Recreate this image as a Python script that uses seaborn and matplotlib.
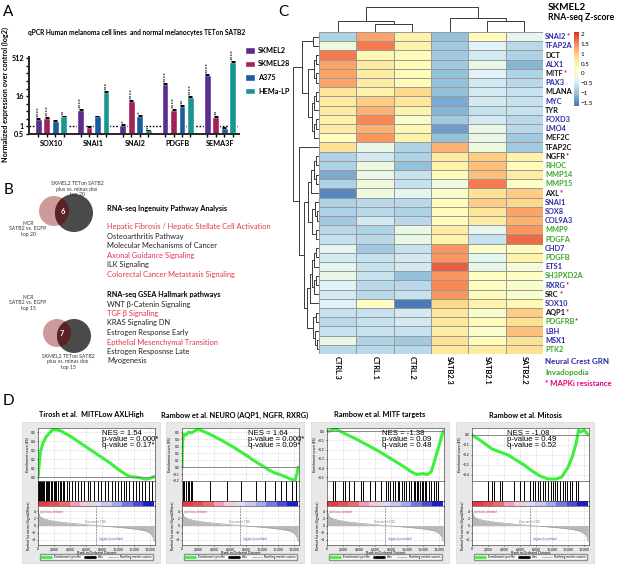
import matplotlib
matplotlib.use("Agg")
import matplotlib.pyplot as plt
import numpy as np
import pandas as pd
import seaborn as sns
from matplotlib.colors import LinearSegmentedColormap, to_rgb
from matplotlib.lines import Line2D
from matplotlib.patches import Circle, Patch, Rectangle
from matplotlib.ticker import FuncFormatter, NullFormatter

W, H = 617, 564

# ---------------- A: qPCR ----------------
qpcr_genes = ["SOX10", "SNAI1", "SNAI2", "PDGFB", "SEMA3F"]
qpcr_lines = ["SKMEL2", "SKMEL28", "A375", "HEMa-LP"]
qpcr_colors = ["#5a2d8f", "#a3215b", "#1c5b9d", "#1a9592"]
skmel2 = [2.0, 4.5, 1.1, 50, 115]
skmel28 = [2.2, 0.95, 10, 4.4, 2.4]
a375 = [1.6, 2.5, 2.6, 6.8, 0.86]
hema = [2.5, 24, 0.7, 14.6, 360]
skmel2_err = [0.15, 0.4, 0.1, 4, 10]
skmel28_err = [0.2, 0.1, 0.8, 0.4, 0.3]
a375_err = [0.15, 0.2, 0.2, 0.6, 0.05]
hema_err = [0.2, 2, 0.05, 1.2, 30]
skmel2_stars = [4, 4, 1, 4, 4]
skmel28_stars = [4, 0, 4, 4, 2]
a375_stars = [0, 0, 1, 2, 0]
hema_stars = [2, 3, 1, 4, 4]

# ---------------- B: pathway lists ----------------
ipa_pathways = ["Hepatic Fibrosis / Hepatic Stellate Cell Activation", "Osteoarthritis Pathway",
                "Molecular Mechanisms of Cancer", "Axonal Guidance Signaling", "ILK Signaling",
                "Colorectal Cancer Metastasis Signaling"]
ipa_highlight = [True, False, False, True, False, True]
hallmark_pathways = ["WNT β-Catenin Signaling", "TGF β Signaling", "KRAS Signaling DN",
                     "Estrogen Response Early", "Epthelial Mesenchymal Transition",
                     "Estrogen Resposnse Late", "Myogenesis"]
hallmark_highlight = [False, True, False, False, True, False, False]
venn_overlap = [6, 7]

# ---------------- C: heatmap ----------------
heat_samples = ["CTRL.3", "CTRL.1", "CTRL.2", "SATB2.3", "SATB2.1", "SATB2.2"]
heat_genes = ["SNAI2", "TFAP2A", "DCT", "ALX1", "MITF", "PAX3", "MLANA", "MYC", "TYR", "FOXD3",
              "LMO4", "MEF2C", "TFAP2C", "NGFR", "RHOC", "MMP14", "MMP15", "AXL", "SNAI1", "SOX8",
              "COL9A3", "MMP9", "PDGFA", "CHD7", "PDGFB", "ETS1", "SH3PXD2A", "RXRG", "SRC",
              "SOX10", "AQP1", "PDGFRB", "LBH", "MSX1", "PTK2"]
gene_group = ["N", "N", "", "N", "", "N", "", "N", "", "N", "N", "", "", "", "I", "I", "I", "",
              "N", "N", "N", "I", "I", "N", "I", "N", "I", "N", "", "N", "", "I", "N", "N", "I"]
gene_mapki = ["SNAI2", "MITF", "NGFR", "AXL", "RXRG", "SRC", "AQP1", "PDGFRB"]
heat_z = [
    [-0.8, 1.3, 0.5, -1.0, 0.3, -0.3],
    [-0.1, 1.6, 0.5, -0.9, -0.4, -0.7],
    [1.6, 0.4, 0.3, -0.9, -0.5, -0.8],
    [1.3, 0.6, 0.3, -0.9, -0.2, -1.1],
    [1.3, 0.6, 0.3, -1.0, -0.4, -0.8],
    [1.3, 0.6, 0.3, -1.0, -0.5, -0.7],
    [0.7, 0.5, 0.9, -1.0, -0.5, -0.6],
    [0.6, 1.0, 0.7, -1.2, -0.5, -0.6],
    [0.6, 1.2, 0.5, -1.1, -0.6, -0.6],
    [0.5, 1.5, 0.1, -0.9, -0.5, -0.7],
    [0.6, 1.2, 0.4, -1.3, -0.2, -0.7],
    [0.2, 1.4, 0.5, -1.0, -0.2, -0.9],
    [0.8, -0.2, -0.8, 1.2, -0.1, -0.9],
    [-0.8, -0.5, -0.8, 0.6, 1.0, 0.5],
    [-0.8, -0.1, -1.0, 0.5, 1.1, 0.3],
    [-1.2, -0.2, -0.6, 0.3, 1.1, 0.6],
    [-0.8, -0.1, -0.6, -0.1, 1.6, 0.2],
    [-1.5, -0.1, -0.3, 0.1, 0.8, 1.0],
    [-0.8, -0.7, -0.7, 0.3, 1.0, 0.9],
    [-0.8, -0.7, -0.8, 0.3, 0.7, 1.3],
    [-0.9, -0.5, -0.7, 0.3, 0.6, 1.2],
    [-0.7, -0.8, -0.2, 0.6, -0.3, 1.4],
    [-0.6, -0.7, -0.2, 0.5, -0.6, 1.7],
    [-0.3, -0.9, -0.6, 1.4, 0.1, 0.3],
    [-0.5, -0.6, -0.5, 1.4, -0.3, 0.5],
    [-0.3, -0.6, -0.5, 1.8, -0.2, 0.0],
    [-0.2, -0.6, -1.0, 1.4, 0.2, 0.2],
    [-0.4, -0.7, -0.7, 1.5, 0.2, 0.1],
    [-0.5, -0.7, -0.6, 1.4, 0.3, 0.1],
    [-0.4, 0.2, -1.6, 0.9, 0.5, 0.4],
    [-0.6, -0.6, -0.5, 0.7, 0.1, 1.0],
    [-0.7, -0.6, -0.5, 0.7, 0.3, 0.8],
    [-0.6, -0.6, -0.6, 0.6, 0.1, 1.1],
    [-0.2, -0.8, -0.9, 0.8, 0.3, 0.8],
    [-0.7, -0.7, -0.7, 0.7, 0.6, 0.8],
]
# clustering trees: (left, right, merge height)
top_a = (0, 1, 6)
top_b = ((2, 3, 3), (4, 5, 3), 5)
top_c = (((6, 7, 3), 8, 5), ((9, 10, 3), 11, 5), 7)
top_tree = (top_a, (top_b, top_c, 11), 17)
bot_a = (((13, 14, 3), (15, 16, 3), 5), 17, 8)
bot_b = ((18, (19, 20, 2), 4), (21, 22, 3), 7)
bot_c = ((((23, 24, 3), 25, 5), ((26, 27, 3), 28, 5), 7), 29, 9)
bot_d = ((30, 31, 3), (32, (33, 34, 2), 4), 6)
bot_tree = (12, ((bot_a, bot_b, 11), (bot_c, bot_d, 12), 15), 20)
row_tree = (top_tree, bot_tree, 26)
col_tree = ((0, (1, 2, 8), 11), (3, (4, 5, 11), 14), 25)

# ---------------- D: GSEA ----------------
gsea_titles = ["Tirosh et al.  MITFLow AXLHigh", "Rambow et al. NEURO (AQP1, NGFR, RXRG)",
               "Rambow et al. MITF targets", "Rambow et al. Mitosis"]
gsea_stats = ["NES = 1.54\np-value = 0.000*\nq-value = 0.17*",
              "NES = 1.64\np-value = 0.000*\nq-value = 0.09*",
              "NES = -1.38\np-value = 0.09\nq-value = 0.48",
              "NES = -1.08\np-value = 0.49\nq-value = 0.52"]
es1_rank = [0, 100, 300, 600, 1000, 1500, 1800, 2200, 2800, 4000, 5000, 6000, 7000, 8000, 9000,
            10000, 11000, 11500, 12500, 13500, 14000, 14500]
es1 = [0, 0.1, 0.28, 0.38, 0.45, 0.5, 0.53, 0.53, 0.52, 0.46, 0.4, 0.34, 0.28, 0.22, 0.16, 0.09,
       0.03, 0.01, 0.0, -0.02, -0.01, 0.01]
es2_rank = [0, 60, 200, 500, 800, 1200, 1600, 2000, 2500, 3500, 5000, 6500, 8000, 9000, 10000,
            10800, 11500, 12500, 13500, 14100, 14300, 14500]
es2 = [0, 0.35, 0.47, 0.46, 0.5, 0.49, 0.52, 0.54, 0.52, 0.47, 0.38, 0.28, 0.17, 0.09, 0.02,
       -0.04, -0.08, -0.12, -0.17, -0.19, -0.12, 0.0]
es3_rank = [0, 400, 800, 1200, 1600, 2500, 3500, 5000, 6500, 8000, 9500, 10500, 11200, 12000,
            12500, 13000, 13500, 14000, 14500]
es3 = [0, 0.0, 0.02, 0.02, 0.0, -0.04, -0.08, -0.15, -0.22, -0.3, -0.38, -0.44, -0.47, -0.46,
       -0.47, -0.44, -0.3, -0.15, 0.0]
es4_rank = [0, 600, 1500, 2500, 3500, 4500, 5500, 6500, 7500, 8500, 9500, 10500, 11200, 12000,
            12500, 13000, 13300, 13600, 14000, 14500]
es4 = [0, -0.03, -0.08, -0.14, -0.17, -0.2, -0.25, -0.3, -0.36, -0.41, -0.44, -0.44, -0.42,
       -0.32, -0.22, -0.08, 0.05, 0.03, 0.05, 0.0]
es_ylims = [(-0.04, 0.55), (-0.2, 0.56), (-0.54, 0.033), (-0.46, 0.07)]
es_yticks = [[0.0, 0.1, 0.2, 0.3, 0.4, 0.5], [-0.2, -0.1, 0.0, 0.1, 0.2, 0.3, 0.4, 0.5],
             [-0.5, -0.4, -0.3, -0.2, -0.1, 0.0], [-0.4, -0.3, -0.2, -0.1, 0.0]]
hits1 = [50, 150, 250, 400, 500, 650, 800, 950, 1100, 1250, 1400, 1600, 1800, 2000, 2150, 2300,
         2500, 2700, 2900, 3100, 3300, 3600, 3900, 4200, 4600, 5000, 5400, 5800, 6200, 6500, 7000,
         7500, 7900, 8300, 8700, 9200, 9600, 10000, 10300, 10700, 11000, 11400, 11800, 12200,
         12600, 13000, 13400, 13800, 14200]
hits2 = [100, 300, 500, 700, 900, 1100, 1300, 3500, 5600, 7400, 9200, 10400, 11600, 12300, 13000,
         13700, 14200]
hits3 = [700, 1000, 2000, 2300, 2700, 3400, 4200, 4500, 5400, 6000, 6700, 7300, 7600, 7900, 8200,
         8500, 8800, 9000, 9300, 9600, 9900, 10200, 10500, 10800, 11000, 11200, 11400, 11600,
         11800, 12000, 12200, 12400, 12700, 13000, 13300, 13600, 13900]
hits4 = [2000, 2500, 2700, 3500, 3800, 5200, 6000, 6500, 7200, 7600, 7900, 8200, 8500, 8800, 9100,
         9500, 9800, 10100, 10400, 10600, 11000, 11300, 11600, 11900, 12200, 12500, 13000, 13200]
metric_rank = [0, 200, 600, 1500, 3000, 5000, 7000, 7228, 9000, 11000, 12500, 13500, 14000, 14300,
               14500]
metric_value = [4.5, 2.6, 2.0, 1.4, 0.9, 0.45, 0.05, 0.0, -0.3, -0.7, -1.1, -1.6, -2.2, -3.0, -4.5]
rank_colors = ["#e33b45", "#e64d55", "#ea6a70", "#f0a0b4", "#f6c9d8", "#dedcf3", "#c9c8f0",
               "#a9a8ea", "#7877e2", "#4b4bd6", "#1e1ec4"]


def px(x0, y0, x1, y1):
    return [x0 / W, 1 - y1 / H, (x1 - x0) / W, (y1 - y0) / H]


def draw_tree(ax, node, horizontal):
    if isinstance(node, int):
        return node + 0.5, 0.0
    left, right, h = node
    p1, h1 = draw_tree(ax, left, horizontal)
    p2, h2 = draw_tree(ax, right, horizontal)
    xs, ys = [h1, h, h, h2], [p1, p1, p2, p2]
    if not horizontal:
        xs, ys = ys, xs
    ax.plot(xs, ys, color="#3a3a3a", lw=0.7, solid_capstyle="butt")
    return (p1 + p2) / 2, h


sns.set_theme(style="ticks")
plt.rcParams["font.family"] = ["Lato", "DejaVu Sans"]
plt.rcParams.update({"text.color": "black", "axes.labelcolor": "black",
                     "xtick.color": "black", "ytick.color": "black"})

fig = plt.figure(figsize=(W / 100, H / 100), dpi=100)
ov = fig.add_axes([0, 0, 1, 1], zorder=10)
ov.set_xlim(0, W)
ov.set_ylim(H, 0)
ov.set_axis_off()

for letter, (lx, ly) in zip("ABCD", [(3, 12), (4, 190), (278, 12), (3, 401)]):
    ov.text(lx, ly, letter, fontsize=11, va="center", ha="left")

# ---------------- panel A ----------------
qpcr = pd.DataFrame({
    "gene": qpcr_genes * 4,
    "line": np.repeat(qpcr_lines, len(qpcr_genes)),
    "value": skmel2 + skmel28 + a375 + hema,
    "err": skmel2_err + skmel28_err + a375_err + hema_err,
    "stars": skmel2_stars + skmel28_stars + a375_stars + hema_stars,
})
axa = fig.add_axes(px(29, 56.6, 239, 134))
sns.barplot(data=qpcr, x="gene", y="value", hue="line", hue_order=qpcr_lines,
            palette=qpcr_colors, saturation=1, width=0.8, gap=0.2, errorbar=None,
            legend=False, ax=axa)
axa.set_yscale("log", base=2)
axa.set_ylim(0.5, 600)
axa.set_xlim(-0.52, 4.45)
axa.axhline(1, color="black", lw=1, ls=(0, (1.2, 1.2)), zorder=0)

centers = []
for p in axa.patches:
    fc = np.array(p.get_facecolor()[:3])
    j = int(np.argmin([np.abs(fc - np.array(to_rgb(c))).sum() for c in qpcr_colors]))
    xc = p.get_x() + p.get_width() / 2
    i = int(round(xc))
    row = qpcr[(qpcr["gene"] == qpcr_genes[i]) & (qpcr["line"] == qpcr_lines[j])].iloc[0]
    centers.append(xc)
    axa.errorbar([xc], [row["value"]], yerr=[[0], [row["err"]]], fmt="none", ecolor="black",
                 elinewidth=0.7, capsize=1.6, capthick=0.7)
    if row["stars"]:
        axa.text(xc, (row["value"] + row["err"]) * 1.1, "*" * int(row["stars"]), rotation=90,
                 ha="center", va="bottom", fontsize=4.6, fontweight="bold")

axa.set_yticks([0.5, 1, 16, 512])
axa.set_yticklabels(["0.5", "1", "16", "512"])
axa.set_yticks([2, 4, 8, 32, 64, 128, 256], minor=True)
axa.yaxis.set_minor_formatter(NullFormatter())
axa.set_xticks(range(len(qpcr_genes)))
axa.set_xticklabels(qpcr_genes)
axa.set_xticks(sorted(centers), minor=True)
axa.tick_params(axis="x", which="major", length=0, pad=4, labelsize=5.2)
axa.tick_params(axis="x", which="minor", length=2.5, width=1)
axa.tick_params(axis="y", which="both", length=2.5, width=1, labelsize=5.2, pad=1)
for t in axa.get_xticklabels() + axa.get_yticklabels():
    t.set_fontweight("bold")
axa.set_xlabel("")
axa.set_ylabel("")
sns.despine(ax=axa)
for s in ["left", "bottom"]:
    axa.spines[s].set_linewidth(1.4)
ov.text(5, 95, "Normalized expression over control (log2)", rotation=90, ha="center",
        va="center", fontsize=5.2, fontweight="bold")
ov.text(28, 33, "qPCR Human melanoma cell lines  and normal melanocytes TETon SATB2",
        fontsize=4.8, fontweight="bold", va="center")
fig.legend(handles=[Patch(facecolor=c) for c in qpcr_colors], labels=qpcr_lines,
           loc="upper left", bbox_to_anchor=(245 / W, 1 - 47 / H), frameon=False,
           prop={"weight": "bold", "size": 5.2}, handlelength=1.4, handleheight=1.0,
           labelspacing=0.9, handletextpad=0.4, borderaxespad=0, borderpad=0)

# ---------------- panel B ----------------
venn_specs = [((54, 211), 15, (74, 213), 19, (63, 212)), ((57, 333), 14, (74, 336), 17, (62, 333))]
for (pc, pr, gc, gr, tc), n in zip(venn_specs, venn_overlap):
    ov.add_patch(Circle(pc, pr, facecolor="#cc9a99", edgecolor="none"))
    gray = Circle(gc, gr, facecolor="#4a4a4a", edgecolor="none")
    ov.add_patch(gray)
    inter = Circle(pc, pr, facecolor="#5a2224", edgecolor="none")
    ov.add_patch(inter)
    inter.set_clip_path(gray)
    ov.text(tc[0], tc[1], str(n), color="white", fontsize=5.4, fontweight="bold",
            ha="center", va="center")

small = dict(fontsize=3.7, ha="center", va="center", color="#333333", linespacing=1.2)
ov.text(77, 189, "SKMEL2 TETon SATB2\nplus vs. minus dox\ntop 20", **small)
ov.text(28, 229, "MCR\nSATB2 vs. EGFP\ntop 20", **small)
ov.text(28, 303, "MCR\nSATB2 vs. EGFP\ntop 15", **small)
ov.text(68, 362, "SKMEL2 TETon SATB2\nplus vs. minus dox\ntop 15", **small)

ov.text(107, 208, "RNA-seq Ingenuity Pathway Analysis", fontsize=5.2, fontweight="bold",
        va="center")
for k, (name, hl) in enumerate(zip(ipa_pathways, ipa_highlight)):
    ov.text(107, 227 + 9.4 * k, name, fontsize=5.4, va="center",
            color="#e2354d" if hl else "#222222")
ov.text(107, 294, "RNA-seq GSEA Hallmark pathways", fontsize=5.2, fontweight="bold",
        va="center")
for k, (name, hl) in enumerate(zip(hallmark_pathways, hallmark_highlight)):
    ov.text(107, 304 + 9.5 * k, name, fontsize=5.4, va="center",
            color="#e2354d" if hl else "#222222")

# ---------------- panel C ----------------
heat = pd.DataFrame(heat_z, index=heat_genes, columns=heat_samples)
cmap = LinearSegmentedColormap.from_list(
    "pheat", ["#4575b4", "#91bfdb", "#e0f3f8", "#ffffbf", "#fee090", "#fc8d59", "#d73027"])
axh = fig.add_axes(px(319, 32, 543, 354))
cax = fig.add_axes(px(574, 32, 578.5, 106))
sns.heatmap(heat, ax=axh, cmap=cmap, vmin=-1.65, vmax=2.1, linewidths=0.5,
            linecolor="#9a9a9a", cbar_ax=cax, xticklabels=False, yticklabels=False)
axh.set_xlabel("")
axh.set_ylabel("")
group_colors = {"N": "#2a2aa8", "I": "#3aa828", "": "#111111"}
for i, (g, grp) in enumerate(zip(heat_genes, gene_group)):
    t = axh.text(6.06, i + 0.5, g, ha="left", va="center", fontsize=5.3, fontweight="bold",
                 color=group_colors[grp])
    if g in gene_mapki:
        axh.annotate("*", xy=(1, 1), xycoords=t, xytext=(0.2, 0.6), textcoords="offset points",
                     ha="left", va="top", fontsize=5.3, fontweight="bold", color="#e4007c")
for j, s in enumerate(heat_samples):
    axh.text(j + 0.5, 35.25, s, rotation=-90, ha="center", va="top", fontsize=5.3,
             fontweight="bold")
cbar = axh.collections[0].colorbar
cbar.set_ticks([2, 1.5, 1, 0.5, 0, -0.5, -1, -1.5])
cbar.ax.yaxis.set_major_formatter(FuncFormatter(lambda v, _: f"{v:g}".replace("-", "\u2212")))
cbar.outline.set_visible(False)
cax.tick_params(labelsize=4.5, length=0, pad=1.5)

axr = fig.add_axes(px(278, 32, 319, 354))
axr.set_xlim(41, 0)
axr.set_ylim(35, 0)
axr.set_axis_off()
draw_tree(axr, row_tree, horizontal=True)
axc = fig.add_axes(px(319, 4, 543, 32))
axc.set_xlim(0, 6)
axc.set_ylim(0, 28)
axc.set_axis_off()
draw_tree(axc, col_tree, horizontal=False)

ov.text(548, 7, "SKMEL2", fontsize=7.2, fontweight="bold", va="center")
ov.text(548, 18, "RNA-seq Z-score", fontsize=6.2, fontweight="bold", va="center")
ov.text(545, 362, "Neural Crest GRN", fontsize=5.8, fontweight="bold", color="#2a2aa8",
        va="center")
ov.text(545, 372.5, "Invadopodia", fontsize=5.8, fontweight="bold", color="#3aa828", va="center")
ov.text(545, 383, "* MAPKi resistance", fontsize=5.6, fontweight="bold", color="#e4007c",
        va="center")

# ---------------- panel D ----------------
es_ranks = [es1_rank, es2_rank, es3_rank, es4_rank]
es_curves = [es1, es2, es3, es4]
hit_sets = [hits1, hits2, hits3, hits4]
stat_x = [0.55, 0.56, 0.47, 0.30]
box_x = [22, 166, 311, 456]
tick_fmt = FuncFormatter(lambda v, _: f"{int(v):,}")
for k in range(4):
    bx = box_x[k]
    fig.patches.append(Rectangle((bx / W, 1 - 563 / H), 138 / W, 141 / H,
                                 transform=fig.transFigure, facecolor="#e8e8e8",
                                 edgecolor="#d2d2d2", lw=0.4, zorder=-1))
    ov.text(bx + 69, 415, gsea_titles[k], ha="center", va="center", fontsize=5.3,
            fontweight="bold")

    ax_es = fig.add_axes(px(bx + 16, 428, bx + 133, 481))
    sns.lineplot(x=es_ranks[k], y=es_curves[k], ax=ax_es, color="#3cf03c", lw=2.2)
    ax_es.axhline(0, color="#7a7a7a", lw=0.6)
    ax_es.set_xlim(0, 14600)
    ax_es.set_ylim(*es_ylims[k])
    ax_es.set_xticks(range(0, 14001, 2000))
    ax_es.set_xticklabels([])
    ax_es.set_yticks(es_yticks[k])
    ax_es.grid(True, ls=":", color="#b0b0b0", lw=0.4)
    ax_es.tick_params(labelsize=2.4, length=1, width=0.4, pad=0.5)
    ax_es.set_ylabel("Enrichment score (ES)", fontsize=2.6, labelpad=1)
    ax_es.text(stat_x[k], 0.97, gsea_stats[k], transform=ax_es.transAxes, va="top", ha="left",
               fontsize=5.6, linespacing=0.85, family=["Liberation Sans", "DejaVu Sans"])
    for s in ax_es.spines.values():
        s.set_linewidth(0.4)

    ax_hit = fig.add_axes(px(bx + 16, 481, bx + 133, 501))
    ax_hit.vlines(hit_sets[k], 0, 1, color="black", lw=0.7)
    ax_hit.set_xlim(0, 14600)
    ax_hit.set_ylim(0, 1)
    ax_hit.set_xticks([])
    ax_hit.set_yticks([])
    for s in ax_hit.spines.values():
        s.set_linewidth(0.4)

    ax_bar = fig.add_axes(px(bx + 16, 501, bx + 133, 506))
    ax_bar.imshow([[to_rgb(c) for c in rank_colors]], aspect="auto", extent=(0, 14400, 0, 1))
    ax_bar.set_xlim(0, 14600)
    ax_bar.set_xticks([])
    ax_bar.set_yticks([])
    for s in ax_bar.spines.values():
        s.set_linewidth(0.4)

    ax_rk = fig.add_axes(px(bx + 16, 506, bx + 133, 545))
    ax_rk.fill_between(metric_rank, metric_value, color="#b9b9b9", lw=0)
    sns.lineplot(x=metric_rank, y=metric_value, ax=ax_rk, color="#9a9a9a", lw=0.4)
    ax_rk.axvline(7228, ls="--", color="#555555", lw=0.4)
    ax_rk.text(7228, 0.8, "Zero cross at 7228", fontsize=1.8, color="#777777", ha="center")
    ax_rk.text(300, 4.3, "'positively correlated'", fontsize=1.8, color="#d03030", va="top")
    ax_rk.text(7600, -4.2, "'negatively correlated'", fontsize=1.8, color="#4040c0")
    ax_rk.set_xlim(0, 14600)
    ax_rk.set_ylim(-5.5, 5.5)
    ax_rk.set_xticks(range(0, 14001, 2000))
    ax_rk.xaxis.set_major_formatter(tick_fmt)
    ax_rk.set_yticks([-4, -2, 0, 2, 4])
    ax_rk.grid(True, ls=":", color="#b0b0b0", lw=0.4)
    ax_rk.tick_params(labelsize=2.4, length=1, width=0.4, pad=0.5)
    ax_rk.set_xlabel("Rank in Ordered Dataset", fontsize=2.6, labelpad=0.3)
    ax_rk.set_ylabel("Ranked list metric (Signal2Noise)", fontsize=2.4, labelpad=1)
    for s in ax_rk.spines.values():
        s.set_linewidth(0.4)
    ax_rk.legend(handles=[Line2D([], [], color="#3cf03c", lw=2),
                          Line2D([], [], color="black", lw=2),
                          Line2D([], [], color="#999999", lw=0.5)],
                 labels=["Enrichment profile", "Hits", "Ranking metric scores"],
                 loc="upper center", bbox_to_anchor=(0.5, -0.24), ncol=3, fontsize=2.3,
                 frameon=True, fancybox=False, edgecolor="#777777", handlelength=3,
                 borderpad=0.3, columnspacing=1.5, borderaxespad=0)

fig.savefig("out.png", dpi=100, facecolor="white")
